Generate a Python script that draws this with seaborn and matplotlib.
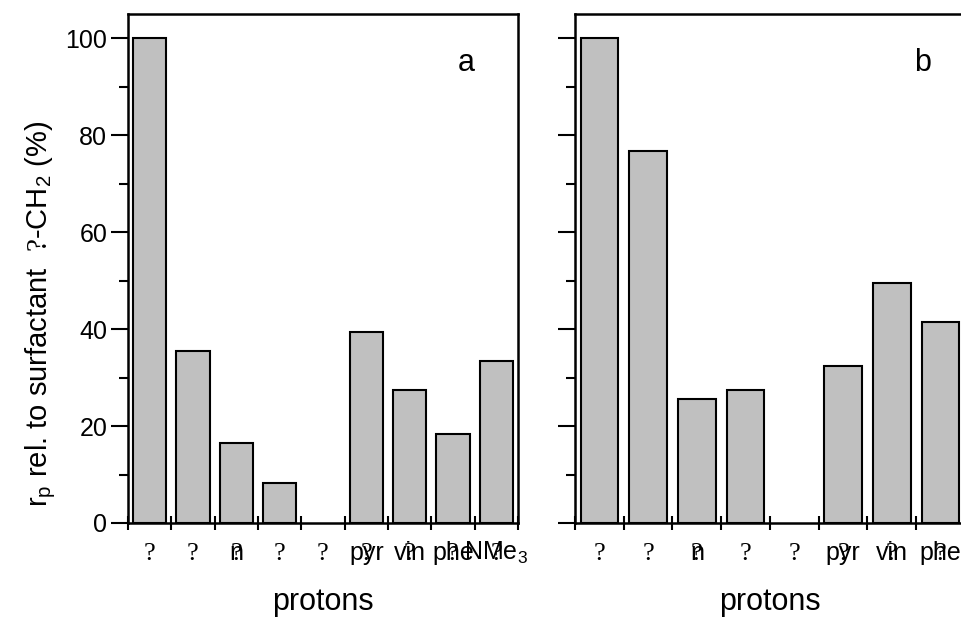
import numpy as np
import pandas as pd
import matplotlib
matplotlib.use("Agg")
import matplotlib.pyplot as plt
from matplotlib.ticker import MultipleLocator
import seaborn as sns

# ---- data -------------------------------------------------------------
# proton groups (Greek symbols are shown as "?" in the source font)
symbols_a = ["?", "?", "?", "?", "?", "?", "?", "?", "?"]
groups_a = ["", "", "n", "", "", "pyr", "vin", "phe", "NMe$_3$"]
values_a = [100, 35.5, 16.5, 8.3, np.nan, 39.5, 27.4, 18.3, 33.5]

symbols_b = ["?", "?", "?", "?", "?", "?", "?", "?"]
groups_b = ["", "", "n", "", "", "pyr", "vin", "phe"]
values_b = [100, 76.7, 25.5, 27.4, np.nan, 32.4, 49.5, 41.4]

panel_letters = ["a", "b"]
y_ticks = [0, 20, 40, 60, 80, 100]

# ---- style ------------------------------------------------------------
sns.set_style("ticks")
plt.rcParams["font.family"] = ["Liberation Sans", "DejaVu Sans"]
plt.rcParams["mathtext.fontset"] = "custom"
plt.rcParams["mathtext.rm"] = "Liberation Sans"
plt.rcParams["mathtext.it"] = "Liberation Sans"
plt.rcParams["mathtext.tt"] = "Liberation Serif"
for key in ["text.color", "axes.labelcolor", "xtick.color", "ytick.color",
            "axes.edgecolor"]:
    plt.rcParams[key] = "black"

BAR_COLOR = "#c0c0c0"
TICK_FS = 18
SYM_FS = 19
LABEL_FS = 22
SERIF = ["Liberation Serif", "DejaVu Serif"]

fig = plt.figure(figsize=(9.62, 6.2), dpi=100)
W, H = 962.0, 620.0
ax_w = 390 / W
ax_b = (H - 523) / H
ax_h = 509 / H
ax_a = fig.add_axes([128 / W, ax_b, ax_w, ax_h])
ax_bb = fig.add_axes([575 / W, ax_b, ax_w, ax_h])


def draw_panel(ax, symbols, groups, values, letter, letter_x, show_ylabels):
    n = len(values)
    df = pd.DataFrame({"pos": np.arange(n), "value": values})
    sns.barplot(data=df, x="pos", y="value", order=list(range(n)),
                color=BAR_COLOR, edgecolor="black", linewidth=1.5,
                width=0.77, saturation=1, ax=ax)
    ax.set_xlim(-0.5, n - 0.5)
    ax.set_ylim(0, 105)

    # ticks sit on category boundaries
    ax.set_xticks(np.arange(n + 1) - 0.5)
    ax.set_xticklabels([])
    ax.tick_params(axis="x", which="major", direction="inout", length=9.5,
                   width=1.5, bottom=True, top=False)
    ax.set_yticks(y_ticks)
    ax.yaxis.set_minor_locator(MultipleLocator(10))
    ax.tick_params(axis="y", which="major", direction="out", length=12,
                   width=1.5, labelsize=TICK_FS, pad=3)
    ax.tick_params(axis="y", which="minor", direction="out", length=6.5,
                   width=1.5)
    if not show_ylabels:
        ax.set_yticklabels([])

    for sp in ax.spines.values():
        sp.set_visible(True)
        sp.set_linewidth(1.8)
        sp.set_color("black")

    # category labels: serif symbol overlaid on the group name
    for i, (sym, grp) in enumerate(zip(symbols, groups)):
        ax.annotate(sym, xy=(i, 0), xycoords=("data", "axes fraction"),
                    xytext=(0, -26.6), textcoords="offset points",
                    ha="center", va="baseline", fontsize=SYM_FS,
                    family=SERIF)
        if grp:
            ax.annotate(grp, xy=(i, 0), xycoords=("data", "axes fraction"),
                        xytext=(0, -26.6), textcoords="offset points",
                        ha="center", va="baseline", fontsize=TICK_FS)

    ax.set_xlabel("protons", fontsize=LABEL_FS)
    ax.xaxis.label.set_va("baseline")
    ax.xaxis.set_label_coords(0.5, -87 / 509)
    ax.set_ylabel("")

    ax.text(letter_x, 0.904, letter, transform=ax.transAxes,
            ha="center", va="center", fontsize=LABEL_FS)


draw_panel(ax_a, symbols_a, groups_a, values_a, panel_letters[0], 0.867, True)
draw_panel(ax_bb, symbols_b, groups_b, values_b, panel_letters[1], 0.892, False)

ax_a.set_ylabel(r"r$_{\mathrm{p}}$ rel. to surfactant  $\mathtt{?}$-CH$_{\mathrm{2}}$ (%)",
                fontsize=21)
ax_a.yaxis.label.set_va("center")
ax_a.yaxis.set_label_coords(-0.225, 0.41)

fig.savefig("out.png", dpi=100)
